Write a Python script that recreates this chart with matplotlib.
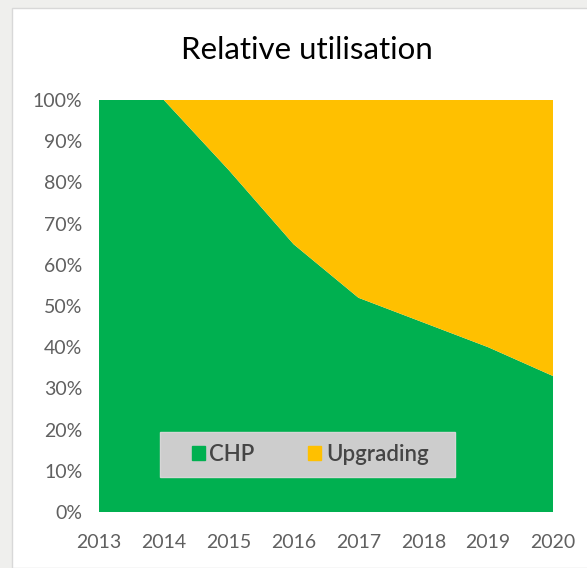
import matplotlib
matplotlib.use("Agg")
import matplotlib.pyplot as plt
from matplotlib.patches import Rectangle, Patch
from matplotlib.ticker import PercentFormatter

plt.rcParams['font.family'] = ['Lato', 'DejaVu Sans']

# ── data ────────────────────────────────────────────────
years    = [2013, 2014, 2015, 2016, 2017, 2018, 2019, 2020]
chp      = [100, 100, 83, 65, 52, 46, 40, 33]
upgrading = [100 - v for v in chp]
yticks   = list(range(0, 101, 10))

green  = '#00b050'
yellow = '#ffc000'

fig = plt.figure(figsize=(5.87, 5.68), dpi=100)
fig.patch.set_facecolor('#efefed')
# white chart panel
fig.patches.append(Rectangle((12 / 587, 0), 1, 1 - 8 / 568,
                             transform=fig.transFigure, facecolor='white',
                             edgecolor='#d8d8d8', lw=1, zorder=-10))

ax = fig.add_axes([99 / 587, 1 - 512 / 568, 454 / 587, 412 / 568])
ax.set_zorder(5)
ax.patch.set_alpha(0)
ax.stackplot(years, chp, upgrading, colors=[green, yellow],
             labels=['CHP', 'Upgrading'], lw=0)

ax.set_xlim(years[0], years[-1])
ax.set_ylim(0, 100)
ax.set_xticks(years)
ax.set_yticks(yticks)
ax.yaxis.set_major_formatter(PercentFormatter(decimals=0))
ax.tick_params(axis='both', length=0, labelsize=14, colors='#606060')
ax.tick_params(axis='x', pad=16)
ax.tick_params(axis='y', pad=12)
for s in ax.spines.values():
    s.set_visible(False)

fig.text(0.523, 1 - 50 / 568, 'Relative utilisation', ha='center',
         va='center', fontsize=22.5, color='black')

# legend box (gray panel behind a frameless legend)
ax.add_patch(Rectangle((0.134, 0.085), 0.65, 0.11, transform=ax.transAxes,
                       facecolor='#cdcdcd', edgecolor='#d6d6d6', lw=1,
                       zorder=4))
handles = [Patch(color=green, label='CHP'), Patch(color=yellow, label='Upgrading')]
leg = ax.legend(handles=handles, loc='center', ncol=2,
                bbox_to_anchor=(0.465, 0.14),
                frameon=False, fontsize=16,
                handlelength=0.6, handleheight=0.6, handletextpad=0.2,
                columnspacing=2.4, borderpad=0, borderaxespad=0)
leg.set_zorder(6)
for t in leg.get_texts():
    t.set_color('#454545')
    t.set_fontweight('semibold')

plt.savefig('out.png', dpi=100, facecolor=fig.get_facecolor())
